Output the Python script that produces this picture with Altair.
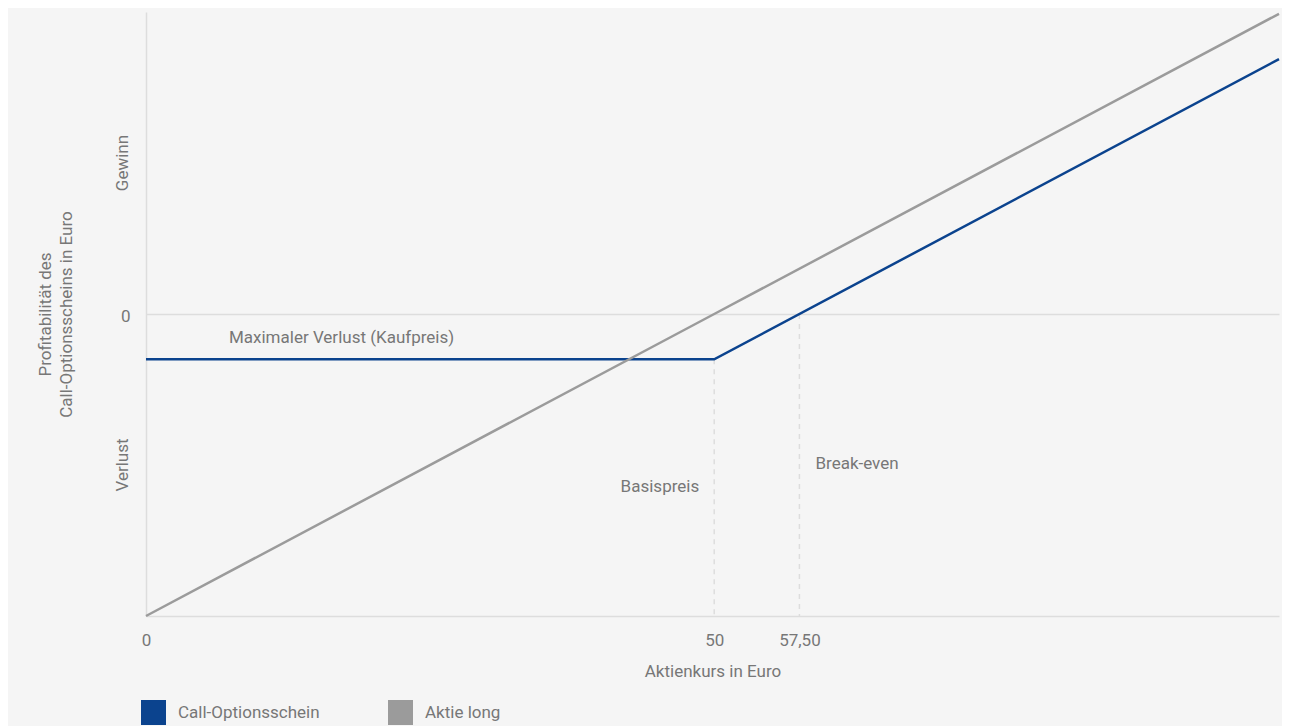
import altair as alt
import pandas as pd

# ---------------- data ----------------
aktienkurs = [0, 50, 99.7]
call_profit = [-7.5, -7.5, 42.2]
aktie_profit = [-50, 0, 49.7]
series_names = ["Call-Optionsschein", "Aktie long"]
series_colors = ["#0b438e", "#9b9b9b"]

x_domain = [0, 99.7]
y_domain = [-50, 50]

x_tick_values = [0, 50, 57.5]
x_tick_labels = ["0", "50", "57,50"]
y_tick_values = [0]
y_tick_labels = ["0"]
y_side_values = [25, -25]
y_side_labels = ["Gewinn", "Verlust"]

guide_x = [50, 57.5]
guide_top = [-7.5, 0]
guide_bottom = [-50, -50]

annot_loss_text = ["Maximaler Verlust (Kaufpreis)"]
annot_loss_x = [7.3]
annot_loss_y = [-4.8]
annot_strike_text = ["Basispreis"]
annot_strike_x = [50]
annot_strike_y = [-29.4]
annot_be_text = ["Break-even"]
annot_be_x = [57.5]
annot_be_y = [-25.7]

x_title = "Aktienkurs in Euro"
y_title = ["Profitabilität des", "Call-Optionsscheins in Euro"]

# ---------------- tables ----------------
rows = []
for name, ys in zip(series_names, [call_profit, aktie_profit]):
    for i, (xv, yv) in enumerate(zip(aktienkurs, ys)):
        rows.append({"x": xv, "y": yv, "Serie": name, "ord": i})
lines_df = pd.DataFrame(rows)

guides_df = pd.DataFrame({"x": guide_x, "y": guide_top, "y2": guide_bottom})
side_df = pd.DataFrame({"y": y_side_values, "label": y_side_labels})
loss_df = pd.DataFrame({"x": annot_loss_x, "y": annot_loss_y, "label": annot_loss_text})
strike_df = pd.DataFrame({"x": annot_strike_x, "y": annot_strike_y, "label": annot_strike_text})
be_df = pd.DataFrame({"x": annot_be_x, "y": annot_be_y, "label": annot_be_text})

FONT = "Roboto"
TXT = "#777777"
GRID = "#dddddd"
FS = 17


def label_expr(values, labels):
    parts = []
    for v, l in zip(values, labels):
        parts.append(f"datum.value == {v} ? '{l}'")
    return " : ".join(parts) + " : ''"


x_axis = alt.Axis(
    values=x_tick_values,
    labelExpr=label_expr(x_tick_values, x_tick_labels),
    title=x_title,
    grid=False,
    ticks=False,
    domain=True,
    domainColor=GRID,
    domainWidth=1.5,
    labelFont=FONT,
    labelFontSize=FS,
    labelColor=TXT,
    labelPadding=16,
    labelFlush=False,
    titleFont=FONT,
    titleFontSize=FS,
    titleFontWeight="normal",
    titleColor=TXT,
    titleBaseline="top",
    titleY=47,
)
y_axis = alt.Axis(
    values=y_tick_values,
    labelExpr=label_expr(y_tick_values, y_tick_labels),
    title=y_title,
    grid=True,
    gridColor=GRID,
    gridWidth=1.5,
    ticks=False,
    domain=True,
    domainColor=GRID,
    domainWidth=1.5,
    labelFont=FONT,
    labelFontSize=FS,
    labelColor=TXT,
    labelPadding=16,
    labelBaseline="middle",
    labelOffset=2,
    titleFont=FONT,
    titleFontSize=FS,
    titleFontWeight="normal",
    titleColor=TXT,
    titleAngle=270,
    titleAlign="center",
    titleBaseline="alphabetic",
    titleLineHeight=21,
    titleX=-96,
    titleY=302,
)

xs = alt.Scale(domain=x_domain, nice=False, zero=False)
ys = alt.Scale(domain=y_domain, nice=False, zero=False)


def X(field="x"):
    return alt.X(f"{field}:Q", scale=xs, axis=x_axis)


def Y(field="y"):
    return alt.Y(f"{field}:Q", scale=ys, axis=y_axis)


guides = alt.Chart(guides_df).mark_rule(
    color=GRID, strokeWidth=1.5, strokeDash=[5, 5]
).encode(x=X(), y=Y(), y2="y2:Q")

line_layers = []
for name, col in zip(series_names, series_colors):
    line_layers.append(
        alt.Chart(lines_df)
        .transform_filter(alt.datum.Serie == name)
        .mark_line(strokeWidth=2.5, color=col)
        .encode(x=X(), y=Y(), order="ord:Q")
    )

legend_layer = alt.Chart(lines_df).mark_square(size=0, filled=True, opacity=1).encode(
    x=X(),
    y=Y(),
    fill=alt.Fill(
        "Serie:N",
        scale=alt.Scale(domain=series_names, range=series_colors),
        legend=alt.Legend(
            title=None,
            orient="none",
            legendX=-5,
            legendY=688,
            direction="horizontal",
            symbolType="square",
            symbolSize=625,
            symbolStrokeWidth=0,
            symbolOpacity=1,
            labelFont=FONT,
            labelFontSize=FS,
            labelColor=TXT,
            labelOffset=12,
            columnPadding=68,
            padding=0,
        ),
    ),
)

side_labels = alt.Chart(side_df).mark_text(
    angle=270, align="center", baseline="alphabetic", dy=-18,
    font=FONT, fontSize=FS, color=TXT,
).encode(x=alt.datum(0, scale=xs), y=Y(), text="label:N")

loss_text = alt.Chart(loss_df).mark_text(
    align="left", baseline="alphabetic", font=FONT, fontSize=FS, color=TXT
).encode(x=X(), y=Y(), text="label:N")

strike_text = alt.Chart(strike_df).mark_text(
    align="right", baseline="alphabetic", dx=-15, font=FONT, fontSize=FS, color=TXT
).encode(x=X(), y=Y(), text="label:N")

be_text = alt.Chart(be_df).mark_text(
    align="left", baseline="alphabetic", dx=16, font=FONT, fontSize=FS, color=TXT
).encode(x=X(), y=Y(), text="label:N")

chart = (
    alt.layer(guides, *line_layers, legend_layer, side_labels, loss_text, strike_text, be_text)
    .properties(
        width=1133,
        height=604,
        autosize=alt.AutoSizeParams(type="none"),
        padding={"left": 138, "top": 4, "right": 3, "bottom": 110},
        background="#f5f5f5",
    )
    .configure_view(stroke=None)
)

chart.save("out.html", embed_options={"renderer": "svg", "actions": False})
